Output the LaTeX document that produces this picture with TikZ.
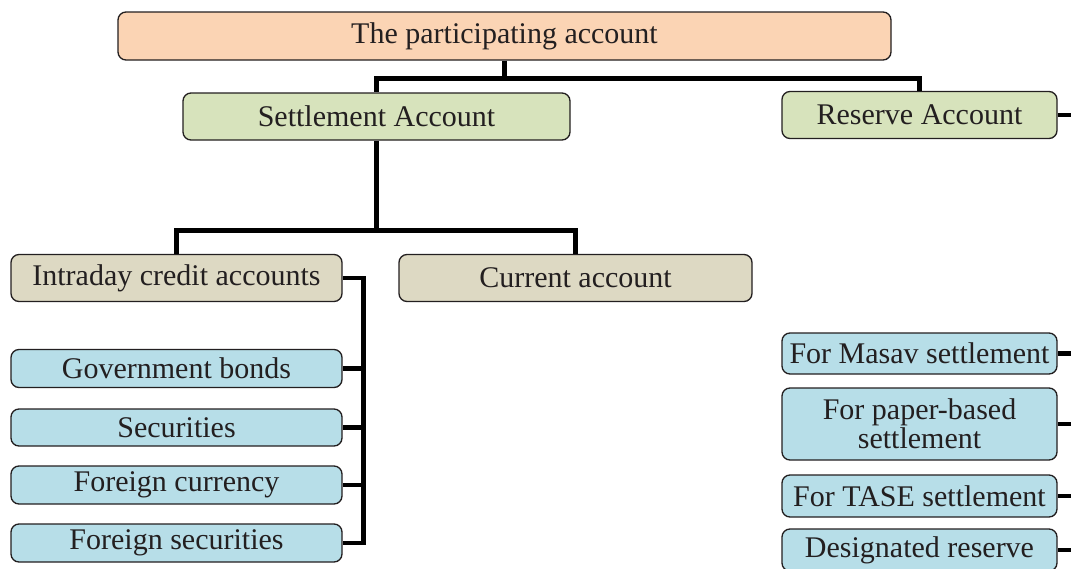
\documentclass[tikz,border=0pt]{standalone}
\usepackage{fontspec}
\setmainfont{Liberation Serif}
\usetikzlibrary{positioning}

\definecolor{peach}{HTML}{FBD4B4}
\definecolor{sage}{HTML}{D7E3BC}
\definecolor{tan}{HTML}{DDD9C3}
\definecolor{paleblue}{HTML}{B7DEE8}
\definecolor{ink}{HTML}{231F20}

\begin{document}
\begin{tikzpicture}[
  x=0.75pt, y=-0.75pt,
  box/.style={draw=ink, line width=1pt, rounded corners=6pt, align=center,
              text=ink, inner sep=0pt, font=\fontsize{22.5}{22}\selectfont},
  root/.style={box, fill=peach, minimum width=579.75pt, minimum height=36pt},
  acct/.style={box, fill=sage, minimum height=35.25pt},
  sub/.style={box, fill=tan, minimum height=35.25pt},
  leaf/.style={box, fill=paleblue, minimum width=248.25pt},
  rleaf/.style={box, fill=paleblue, minimum width=206.25pt},
  link/.style={line width=3.4pt}
]
  \useasboundingbox (0,0) rectangle (1071,568);
  \clip (0,0) rectangle (1071,568);

  % top of the tree
  \node[root] (top) at (504.5,36) {The participating account};
  \node[acct, minimum width=290.25pt] (settle)  at (376.5,116.5) {Settlement Account};
  \node[acct, minimum width=206.25pt] (reserve) at (919.5,115)   {Reserve Account};
  % under the settlement account
  \node[sub, minimum width=248.25pt] (intra)   at (176.5,278) {Intraday credit accounts};
  \node[sub, minimum width=264.75pt] (current) at (575.5,278) {Current account};
  % collateral, left column
  \node[leaf, minimum height=28.5pt] (gov)  at (176.5,368.5) {Government bonds};
  \node[leaf, minimum height=27.75pt] (sec)  at (176.5,427.5) {Securities};
  \node[leaf, minimum height=28.5pt] (fcur) at (176.5,485)   {Foreign currency};
  \node[leaf, minimum height=28.5pt] (fsec) at (176.5,543)   {Foreign securities};
  % reserve sub-accounts, right column
  \node[rleaf, minimum height=30.75pt] (masav) at (919.5,353.5) {For Masav settlement};
  \node[rleaf, minimum height=54pt]    (paper) at (919.5,424)   {For paper-based\\settlement};
  \node[rleaf, minimum height=31.5pt]  (tase)  at (919.5,496)   {For TASE settlement};
  \node[rleaf, minimum height=31.5pt]  (desig) at (919.5,550)   {Designated reserve};

  \draw[link] (top.south) -- ++(0,18) -| (settle.north);
  \draw[link] (top.south) ++(0,18) -| (reserve.north);
  \draw[link] (settle.south) -- ++(0,90) -| (intra.north);
  \draw[link] (settle.south) ++(0,90) -| (current.north);

  \draw[link] (intra.east) -- ++(21,0) coordinate (ibus) |- (fsec.east);
  \foreach \n in {gov, sec, fcur}
    \draw[link] (ibus) |- (\n.east);

  \draw[link] (reserve.east) -- ++(25,0) coordinate (rbus) |- (desig.east);
  \foreach \n in {masav, paper, tase}
    \draw[link] (rbus) |- (\n.east);
\end{tikzpicture}
\end{document}
